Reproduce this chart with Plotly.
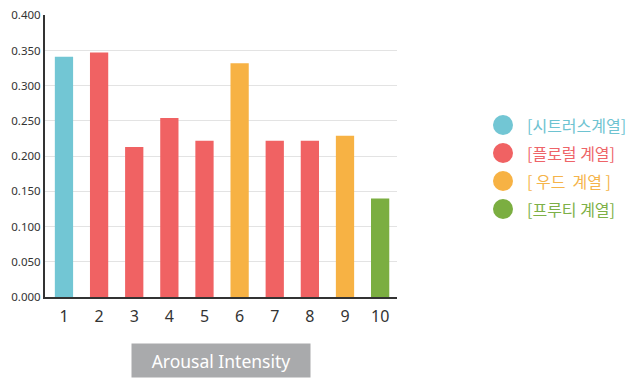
import plotly.graph_objects as go

categories = [1, 2, 3, 4, 5, 6, 7, 8, 9, 10]
values = [0.341, 0.347, 0.213, 0.254, 0.222, 0.332, 0.222, 0.222, 0.229, 0.140]
groups = [0, 1, 1, 1, 1, 2, 1, 1, 2, 3]
group_names = ["[시트러스계열]", "[플로럴 계열]", "[ 우드  계열 ]", "[프루티 계열]"]
group_colors = ["#72C6D4", "#F06263", "#F7B244", "#7BAE41"]
text_colors = ["#6EC3D1", "#EE6468", "#F5B44A", "#7DB047"]
y_ticks = [0.0, 0.05, 0.1, 0.15, 0.2, 0.25, 0.3, 0.35, 0.4]
x_title = "Arousal Intensity"

fig = go.Figure()
fig.add_trace(go.Bar(
    x=categories, y=values, width=0.52,
    marker=dict(color=[group_colors[g] for g in groups], line=dict(width=0)),
    showlegend=False,
))

# page body has an 8px margin; plot area targeted at x 45..397, y 15..297
off = 8
plot_w, plot_h = 352, 282
shapes = []
annotations = []
legend_y = [125, 153, 181, 209]
for i, name in enumerate(group_names):
    yp = (297 - legend_y[i]) / plot_h
    shapes.append(dict(
        type="circle", xref="paper", yref="paper",
        xsizemode="pixel", ysizemode="pixel",
        xanchor=(503 - 45) / plot_w, yanchor=yp,
        x0=-10, x1=10, y0=-10, y1=10,
        fillcolor=group_colors[i], line=dict(width=0),
    ))
    annotations.append(dict(
        text=name, xref="paper", yref="paper",
        x=(525 - 45) / plot_w, y=yp, xanchor="left", yanchor="middle",
        showarrow=False,
        font=dict(family="Noto Sans CJK KR", size=16, color=text_colors[i]),
    ))

annotations.append(dict(
    text=x_title, xref="paper", yref="paper",
    x=(221 - 45) / plot_w, y=-63 / plot_h, xanchor="center", yanchor="middle",
    showarrow=False, bgcolor="#A9AAAC", width=172, height=27, borderpad=3,
    font=dict(family="Noto Sans", size=17.5, color="#FFFFFF"),
))

fig.update_layout(
    width=642, height=391,
    margin=dict(l=45 - off, r=642 - 397 + off, t=15 - off, b=391 - 297 + off),
    paper_bgcolor="#FFFFFF", plot_bgcolor="#FFFFFF",
    shapes=shapes, annotations=annotations,
)
fig.update_xaxes(
    range=[0.46, 10.48], tickvals=categories, ticktext=[str(c) for c in categories],
    showgrid=False, zeroline=False, showline=True, linecolor="#333333", linewidth=2,
    ticks="", automargin=False, ticklabeloverflow="allow", ticklabelstandoff=4,
    tickfont=dict(family="Noto Sans", size=16, color="#333333"),
)
fig.update_yaxes(
    range=[0, 0.4004], tickvals=y_ticks, tickformat=".3f",
    showgrid=True, gridcolor="#E3E3E3", gridwidth=1, zeroline=False,
    showline=True, linecolor="#333333", linewidth=2, ticks="", automargin=False,
    ticklabeloverflow="allow",
    tickfont=dict(family="Noto Sans", size=11.5, color="#333333"),
)

fig.write_html("out.html")
